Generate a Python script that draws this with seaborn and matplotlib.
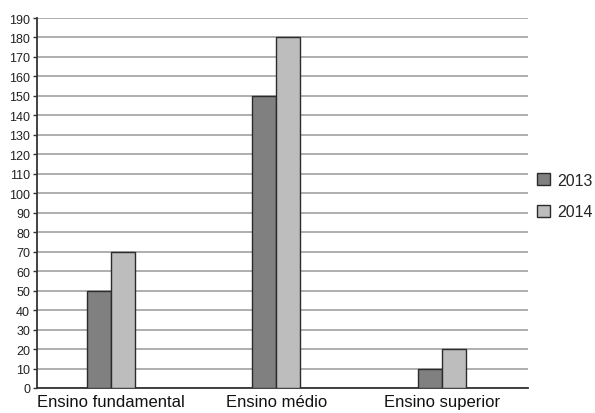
import numpy as np
import pandas as pd
import matplotlib
matplotlib.use("Agg")
import matplotlib.pyplot as plt
import seaborn as sns

# data
categories = ["Ensino fundamental", "Ensino médio", "Ensino superior"]
years = ["2013", "2014"]
values_2013 = [50, 150, 10]
values_2014 = [70, 180, 20]
y_ticks = list(range(0, 200, 10))

df = pd.DataFrame({
    "nivel": categories * 2,
    "ano": [years[0]] * 3 + [years[1]] * 3,
    "valor": values_2013 + values_2014,
})

sns.set_theme(style="white")
plt.rcParams['font.family'] = ['Liberation Sans', 'DejaVu Sans']

fig = plt.figure(figsize=(5.95, 4.14), dpi=100)
ax = fig.add_axes([37 / 595, 1 - 389 / 414, (528 - 37) / 595, (389 - 19) / 414])

palette = {"2013": "#808080", "2014": "#bdbdbd"}
sns.barplot(data=df, x="nivel", y="valor", hue="ano", palette=palette,
            order=categories, hue_order=years, width=0.29, gap=0,
            edgecolor="#2b2b2b", linewidth=1.0, saturation=1, ax=ax, zorder=3)

ax.set_ylim(0, 190)
ax.set_xlim(-0.447, 2.52)
ax.set_yticks(y_ticks)
ax.set_yticklabels([str(t) for t in y_ticks], fontsize=9, color="#222222")
ax.yaxis.grid(True, color="#a8a8a8", linewidth=1.3, zorder=0)
ax.set_axisbelow(True)
ax.tick_params(axis="y", length=3, width=1, color="#333333", left=True, pad=2)
ax.tick_params(axis="x", length=0, labelsize=12, colors="#111111", pad=4)
ax.set_xlabel("")
ax.set_ylabel("")

for s in ["top", "right"]:
    ax.spines[s].set_visible(False)
for s in ["left", "bottom"]:
    ax.spines[s].set_color("#333333")
    ax.spines[s].set_linewidth(1.3)

leg = ax.legend(loc="upper left", bbox_to_anchor=(1.018, 0.582), frameon=False,
                fontsize=11.5, handlelength=0.85, handleheight=0.85,
                handletextpad=0.4, labelspacing=1.05, borderpad=0,
                borderaxespad=0)
for h in leg.legend_handles:
    h.set_edgecolor("#2b2b2b")
    h.set_linewidth(1.0)

fig.savefig("out.png", dpi=100)
